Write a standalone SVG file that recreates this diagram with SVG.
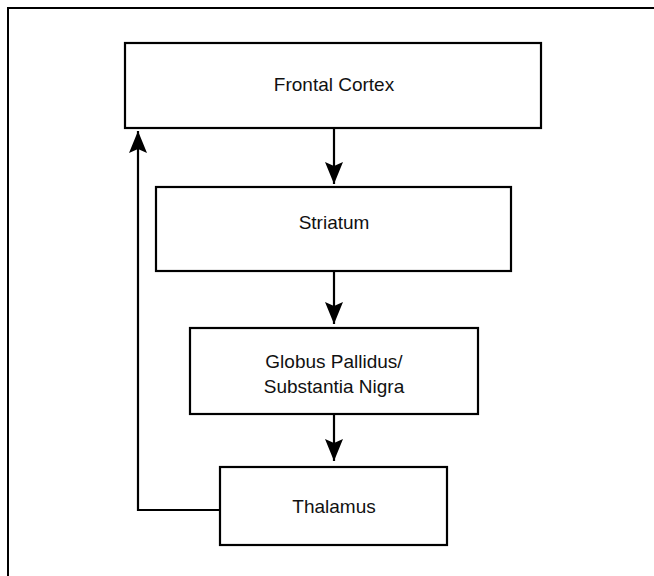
<svg xmlns="http://www.w3.org/2000/svg" width="654" height="576" viewBox="0 0 654 576">
<style>
.box{fill:#fff;stroke:#000;stroke-width:2.2}
.lbl{font-family:"Liberation Sans",Arial,sans-serif;font-size:19px;fill:#111;text-anchor:middle}
.con{fill:none;stroke:#000;stroke-width:2.2}
</style>
<defs>
<marker id="ah" markerUnits="userSpaceOnUse" markerWidth="22" markerHeight="18" refX="22" refY="9" orient="auto" viewBox="0 0 22 18">
<path d="M0,0 L22,9 L0,18 L4,9 z" fill="#000"/>
</marker>
</defs>
<rect width="654" height="576" fill="#fff"/>
<path d="M8,576 V8 H654" fill="none" stroke="#000" stroke-width="2"/>
<g id="frontal-cortex">
<rect class="box" x="125" y="43" width="416" height="85"/>
<text class="lbl" x="334" y="91">Frontal Cortex</text>
</g>
<g id="striatum">
<rect class="box" x="156" y="187" width="355" height="84"/>
<text class="lbl" x="334" y="229">Striatum</text>
</g>
<g id="globus-pallidus">
<rect class="box" x="190" y="328" width="288" height="86"/>
<text class="lbl" x="334" y="368">Globus Pallidus/</text>
<text class="lbl" x="334" y="393">Substantia Nigra</text>
</g>
<g id="thalamus">
<rect class="box" x="220" y="467" width="227" height="78"/>
<text class="lbl" x="334" y="513">Thalamus</text>
</g>
<g id="connectors">
<path class="con" d="M334,128 V184" marker-end="url(#ah)"/>
<path class="con" d="M334,271 V324" marker-end="url(#ah)"/>
<path class="con" d="M334,414 V461" marker-end="url(#ah)"/>
<path class="con" d="M220,510 H138 V131" marker-end="url(#ah)"/>
</g>
</svg>
